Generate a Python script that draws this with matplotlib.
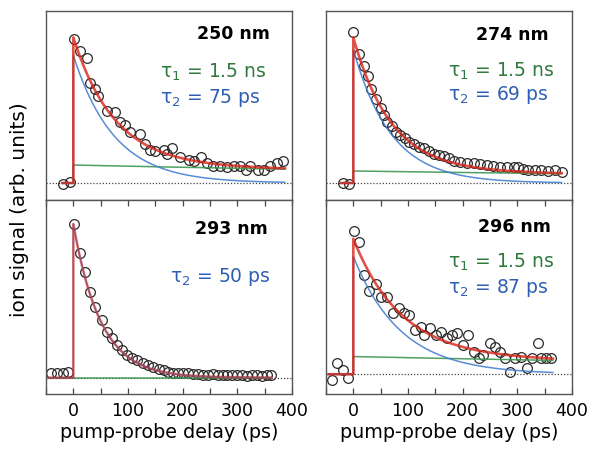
import numpy as np
import matplotlib
matplotlib.use("Agg")
import matplotlib.pyplot as plt
from matplotlib.ticker import MultipleLocator

# ---------------- data ----------------
panel_labels = ["250 nm", "274 nm", "293 nm", "296 nm"]
tau1_text = ["1.5 ns", "1.5 ns", None, "1.5 ns"]
tau2_text = ["75 ps", "69 ps", "50 ps", "87 ps"]

# fit parameters (amplitudes normalised, lifetimes in ps)
tau1 = [1500, 1500, 1500, 1500]
tau2 = [75, 69, 50, 87]
amp_slow = [0.124, 0.083, 0.0, 0.13]   # green component
amp_fast = [0.88, 0.92, 1.0, 0.865]    # blue component
fit_start = [-20, -22, -45, -45]
fit_end = [387, 381, 362, 365]

t_250 = [-18, -7, 2, 13, 25, 30, 39, 46, 61, 77, 86, 95, 104, 122, 131, 141, 150,
         165, 172, 180, 195, 211, 220, 233, 244, 256, 268, 281, 293, 305, 316, 323,
         337, 348, 360, 372, 384]
v_250 = [-0.01, 0.01, 0.99, 0.91, 0.86, 0.69, 0.65, 0.60, 0.50, 0.49, 0.42, 0.40,
         0.35, 0.34, 0.27, 0.23, 0.22, 0.23, 0.20, 0.24, 0.18, 0.16, 0.15, 0.18,
         0.14, 0.12, 0.12, 0.11, 0.12, 0.12, 0.09, 0.12, 0.09, 0.09, 0.12, 0.14, 0.15]

t_274 = [-19, -8, 0, 11, 20, 26, 33, 41, 50, 56, 62, 70, 78, 85, 94, 102, 111, 120,
         129, 138, 147, 156, 165, 175, 184, 196, 208, 220, 232, 244, 256, 268, 281,
         293, 302, 311, 320, 332, 344, 356, 369, 381]
v_274 = [0.0, -0.01, 1.04, 0.89, 0.81, 0.74, 0.65, 0.58, 0.52, 0.47, 0.42, 0.39,
         0.35, 0.33, 0.31, 0.28, 0.27, 0.25, 0.24, 0.22, 0.20, 0.19, 0.185, 0.175,
         0.154, 0.147, 0.14, 0.136, 0.131, 0.124, 0.117, 0.112, 0.108, 0.112, 0.108,
         0.094, 0.09, 0.09, 0.09, 0.085, 0.09, 0.078]

t_293 = [-40, -30, -19, -9, 2, 13, 22, 31, 40, 52, 61, 71, 80, 89, 98, 107, 116,
         127, 136, 145, 156, 165, 174, 183, 192, 201, 210, 219, 228, 237, 246, 255,
         264, 273, 282, 291, 300, 309, 318, 327, 336, 345, 354, 362]
v_293 = [0.03, 0.03, 0.03, 0.035, 1.0, 0.81, 0.69, 0.56, 0.46, 0.375, 0.30, 0.256,
         0.213, 0.18, 0.148, 0.126, 0.115, 0.094, 0.083, 0.072, 0.055, 0.05, 0.04,
         0.033, 0.03, 0.028, 0.03, 0.022, 0.025, 0.02, 0.018, 0.022, 0.015, 0.02,
         0.016, 0.018, 0.015, 0.02, 0.014, 0.016, 0.015, 0.013, 0.015, 0.015]

t_296 = [-39, -29, -19, -9, 2, 11, 20, 29, 41, 50, 61, 72, 83, 93, 102, 113, 123,
         129, 141, 151, 161, 172, 181, 190, 200, 210, 220, 229, 238, 250, 260, 268,
         278, 287, 296, 307, 317, 327, 338, 344, 353, 361]
v_296 = [-0.04, 0.08, 0.03, -0.03, 1.05, 0.975, 0.73, 0.61, 0.66, 0.57, 0.57, 0.45,
         0.485, 0.45, 0.435, 0.326, 0.35, 0.29, 0.34, 0.29, 0.31, 0.265, 0.29, 0.30,
         0.215, 0.29, 0.166, 0.118, 0.142, 0.228, 0.203, 0.166, 0.118, 0.02, 0.118,
         0.13, 0.044, 0.118, 0.228, 0.118, 0.118, 0.118]

t_data = [t_250, t_274, t_293, t_296]
v_data = [v_250, v_274, v_293, v_296]
ylims = [(-0.117, 1.186), (-0.117, 1.186), (-0.106, 1.156), (-0.145, 1.28)]

xticks_major = [0, 100, 200, 300, 400]

# ---------------- style ----------------
RED = "#d7261c"
BLUE = "#3a78d0"
GREEN = "#3d9650"
TXT_GREEN = "#2f7a3c"
TXT_BLUE = "#2f5fb5"
plt.rcParams['font.family'] = ['DejaVu Sans']

fig = plt.figure(figsize=(5.9, 4.55), dpi=100)
W, H = 590.0, 455.0
rects = [
    (46 / W, 1 - 200 / H, 246 / W, 189 / H),
    (326 / W, 1 - 200 / H, 246 / W, 189 / H),
    (46 / W, 1 - 394 / H, 246 / W, 194 / H),
    (326 / W, 1 - 394 / H, 246 / W, 194 / H),
]
# text positions (axes fraction)
title_pos = [(0.91, 0.852), (0.907, 0.847), (0.902, 0.825), (0.915, 0.835)]
tau1_pos = [(0.463, 0.646), (0.496, 0.65), None, (0.496, 0.65)]
tau2_pos = [(0.463, 0.513), (0.496, 0.529), (0.504, 0.577), (0.496, 0.52)]

for i in range(4):
    ax = fig.add_axes(rects[i])
    ax.set_xlim(-50, 400)
    ax.set_ylim(*ylims[i])
    for s in ax.spines.values():
        s.set_color("#555555")
        s.set_linewidth(1.0)
    ax.set_yticks([])

    # dotted baseline
    ax.axhline(0, color="#444444", lw=0.9, ls=(0, (1, 1.5)), zorder=1)

    # data
    ax.plot(t_data[i], v_data[i], 'o', ms=7, mfc='none', mec='#2a2a2a',
            mew=0.9, zorder=2)

    # fit curves
    tt = np.linspace(0, fit_end[i], 400)
    slow = amp_slow[i] * np.exp(-tt / tau1[i])
    fast = amp_fast[i] * np.exp(-tt / tau2[i])
    x_full = np.concatenate([[fit_start[i], 0], tt])
    g = np.concatenate([[0, 0], slow])
    b = np.concatenate([[0, 0], fast])
    r = np.concatenate([[0, 0], slow + fast])
    ax.plot(x_full, g, color=GREEN, lw=1.1, alpha=0.9, zorder=3)
    ax.plot(x_full, b, color=BLUE, lw=1.1, alpha=0.85, zorder=4)
    ax.plot(x_full, r, color=RED, lw=1.9, alpha=0.8 if i != 2 else 0.55, zorder=5)

    # texts
    ax.text(*title_pos[i], panel_labels[i], transform=ax.transAxes, ha='right',
            va='baseline', fontsize=12.5, fontweight='bold', color='black')
    if tau1_text[i] is not None:
        ax.text(*tau1_pos[i], r"τ$_\mathregular{1}$ = " + tau1_text[i],
                transform=ax.transAxes, ha='left', va='baseline', fontsize=13.5,
                color=TXT_GREEN)
    ax.text(*tau2_pos[i], r"τ$_\mathregular{2}$ = " + tau2_text[i],
            transform=ax.transAxes, ha='left', va='baseline', fontsize=13.5,
            color=TXT_BLUE)

    if i >= 2:
        ax.xaxis.set_major_locator(MultipleLocator(100))
        ax.xaxis.set_minor_locator(MultipleLocator(50))
        ax.set_xticks(xticks_major)
        ax.tick_params(axis='x', which='both', direction='in', top=True,
                       bottom=True, length=4, width=0.9, color='#444444',
                       labelsize=12.5, pad=6)
        ax.set_xlabel("pump-probe delay (ps)", fontsize=13.8, labelpad=2)
    else:
        ax.set_xticks([])

fig.text(20 / W, 1 - 210 / H, "ion signal (arb. units)", rotation=90,
         ha='center', va='center', fontsize=14.5)

fig.savefig("out.png", dpi=100)
